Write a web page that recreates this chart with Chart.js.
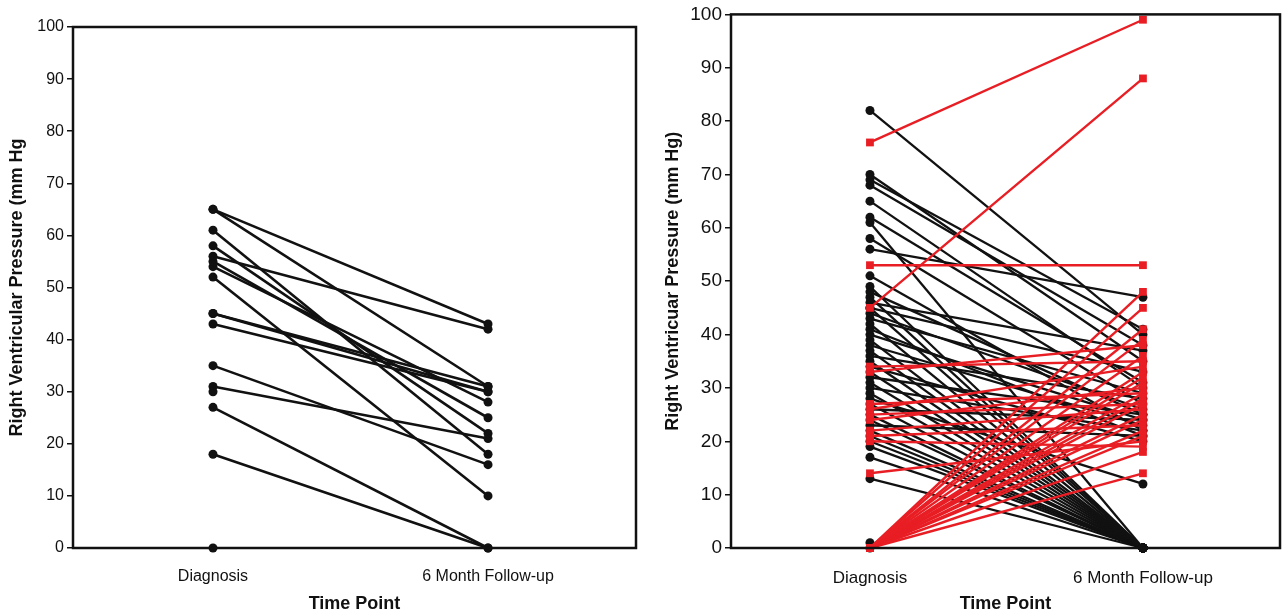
<!DOCTYPE html>
<html lang="en">
<head>
    <meta charset="UTF-8">
    <title>Right Ventricular Pressure</title>
    <script src="https://cdn.jsdelivr.net/npm/chart.js"></script>
    <style>
        body { margin: 0; background: #fff; }
        .panel { position: absolute; top: 0; height: 615px; }
        #leftPanel { left: 0; width: 645px; }
        #rightPanel { left: 645px; width: 642px; }
    </style>
</head>
<body>
    <div class="panel" id="leftPanel"><canvas id="leftChart"></canvas></div>
    <div class="panel" id="rightPanel"><canvas id="rightChart"></canvas></div>

    <script>
        // time points
        const timeLabels = ['Diagnosis', '6 Month Follow-up'];
        const yTicks = [0, 10, 20, 30, 40, 50, 60, 70, 80, 90, 100];

        // left panel: one value per patient at each time point
        const leftDiag   = [65, 65, 61, 58, 56, 55, 54, 52, 45, 45, 43, 35, 31, 30, 27, 18, 0];
        const leftFollow = [43, 31, 18, 22, 42, 25, 28, 10, 31, 30, 30, 16, 21, null, 0, 0, null];

        // right panel, black circles
        const blackDiag   = [82, 70, 69, 68, 65, 62, 61, 58, 56, 51, 49, 48, 47, 46, 45, 45, 44, 43, 42, 41,
                             40, 39, 38, 37, 36, 35, 34, 33, 32, 31, 30, 29, 28, 27, 26, 25, 24, 23, 22, 21,
                             20, 19, 17, 13, 1, 0];
        const blackFollow = [40, 35, 41, 38, 30, 31, 0, 27, 47, 22, 0, 25, 0, 37, 33, 0, 26, 29, 0, 21,
                             24, 0, 23, 0, 28, 0, 20, 0, 25, 0, 22, 0, 12, 0, 24, 0, 0, 21, 0, 0,
                             0, 0, 0, 0, null, null];

        // right panel, red squares
        const redDiag   = [76, 45, 53, 34, 33, 27, 26, 25, 24, 22, 21, 20, 14,
                           0, 0, 0, 0, 0, 0, 0, 0, 0, 0, 0, 0, 0, 0, 0, 0, 0];
        const redFollow = [99, 88, 53, 35, 38, 29, 34, 27, 30, 26, 23, 19, 20,
                           48, 45, 41, 39, 36, 33, 32, 31, 29, 28, 27, 25, 24, 22, 21, 18, 14];

        const BLACK = '#111111';
        const RED = 'rgb(232, 30, 36)';

        function pairSets(diag, follow, color, style, width, radius) {
            return diag.map((d, i) => ({
                data: [{ x: 0, y: d }, { x: 1, y: follow[i] }],
                borderColor: color,
                backgroundColor: color,
                borderWidth: width,
                pointStyle: style,
                pointRadius: radius,
                pointBorderWidth: 0,
                tension: 0,
                clip: false
            }));
        }

        // box around the plot area
        const framePlugin = {
            id: 'frame',
            afterDraw(chart) {
                const a = chart.chartArea;
                const ctx = chart.ctx;
                ctx.save();
                ctx.strokeStyle = BLACK;
                ctx.lineWidth = 2.5;
                ctx.strokeRect(a.left, a.top, a.right - a.left, a.bottom - a.top);
                ctx.restore();
            }
        };

        function makeOptions(c) {
            return {
                responsive: true,
                maintainAspectRatio: false,
                animation: false,
                layout: { padding: { top: c.top, right: c.right, left: 0, bottom: 0 } },
                plugins: { legend: { display: false }, tooltip: { enabled: false } },
                scales: {
                    x: {
                        type: 'linear',
                        min: c.xMin,
                        max: c.xMax,
                        afterBuildTicks: s => { s.ticks = [{ value: 0 }, { value: 1 }]; },
                        afterFit: s => { s.height = 615 - c.bottom; },
                        grid: { display: false },
                        border: { display: false },
                        ticks: {
                            padding: c.xTickPad,
                            color: BLACK,
                            font: { family: 'Liberation Sans, Arial', size: c.xTickSize },
                            callback: v => timeLabels[v]
                        },
                        title: {
                            display: true,
                            text: 'Time Point',
                            color: BLACK,
                            padding: { top: 0, bottom: c.xTitlePad },
                            font: { family: 'Liberation Sans, Arial', size: 18, weight: 'bold' }
                        }
                    },
                    y: {
                        min: 0,
                        max: 100,
                        afterBuildTicks: s => { s.ticks = yTicks.map(v => ({ value: v })); },
                        afterFit: s => { s.width = c.left; },
                        grid: { drawOnChartArea: false, color: BLACK, lineWidth: 1.5, tickLength: 6 },
                        border: { display: false },
                        ticks: {
                            padding: 3,
                            color: BLACK,
                            font: { family: 'Liberation Sans, Arial', size: c.yTickSize }
                        },
                        title: {
                            display: true,
                            text: c.yTitle,
                            color: BLACK,
                            padding: { top: c.yTitlePad, bottom: 0 },
                            font: { family: 'Liberation Sans, Arial', size: 18, weight: 'bold' }
                        }
                    }
                }
            };
        }

        new Chart(document.getElementById('leftChart'), {
            type: 'line',
            data: { datasets: pairSets(leftDiag, leftFollow, BLACK, 'circle', 2.6, 4.5) },
            options: makeOptions({
                top: 27, right: 9, left: 73, bottom: 548,
                xMin: -0.509, xMax: 1.538,
                xTickSize: 16, yTickSize: 16, xTickPad: 11, xTitlePad: 0,
                yTitle: 'Right Ventricular Pressure (mm Hg', yTitlePad: 6
            }),
            plugins: [framePlugin]
        });

        new Chart(document.getElementById('rightChart'), {
            type: 'line',
            data: {
                datasets: pairSets(redDiag, redFollow, RED, 'rect', 2.4, 5.5)
                    .concat(pairSets(blackDiag, blackFollow, BLACK, 'circle', 2.3, 4.5))
            },
            options: makeOptions({
                top: 12, right: 7, left: 86, bottom: 548,
                xMin: -0.509, xMax: 1.502,
                xTickSize: 17, yTickSize: 19, xTickPad: 12, xTitlePad: 0,
                yTitle: 'Right Ventricuar Pressure (mm Hg)', yTitlePad: 17
            }),
            plugins: [framePlugin]
        });
    </script>
</body>
</html>
